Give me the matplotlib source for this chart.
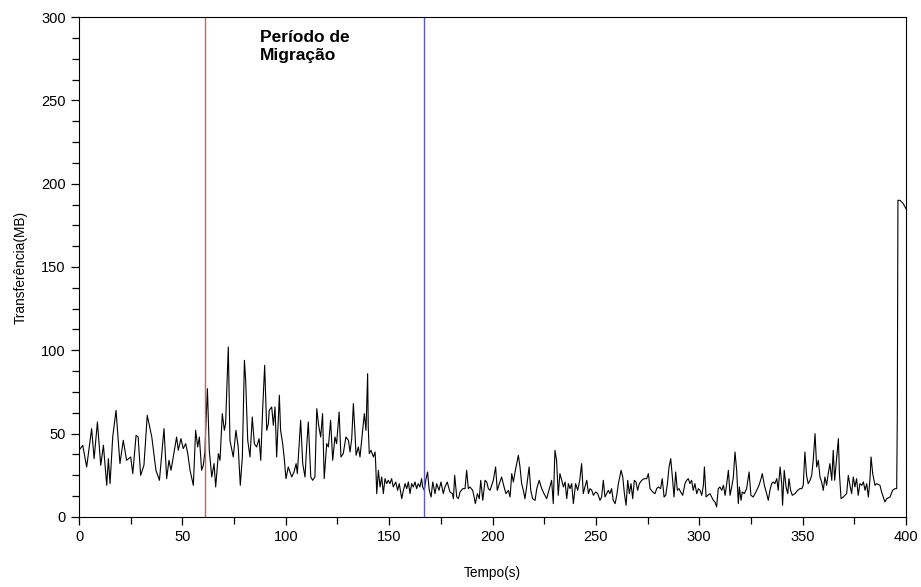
import matplotlib
matplotlib.use("Agg")
import matplotlib.pyplot as plt
from matplotlib.ticker import MultipleLocator

plt.rcParams['font.family'] = ['Liberation Sans', 'DejaVu Sans']

# Transferencia (MB) ao longo do tempo (s)
tempo = [
    0, 1.8, 3.7, 6.1, 7.3, 8.9, 10.5, 11.8, 13.4, 14.2, 15, 16.3, 17.9, 19.8,
    21.4, 23, 25, 26, 27.6, 28.6, 29.8, 31.4, 33, 35.2, 37.2, 38.9, 41.1, 42.4,
    43.5, 44.5, 45.6, 47.2, 48, 49.3, 50.4, 51.6, 52.6, 53.7, 55.3, 56.4, 57.4,
    58.2, 59.3, 60.1, 60.9, 61.3, 62.1, 63, 64.2, 65.3, 66.1, 67.4, 68.2, 69.3,
    70.3, 70.9, 72.2, 73, 74.6, 75.9, 77, 78, 79, 80, 80.6, 81.6, 82.7, 83.8,
    84.8, 85.9, 87.1, 87.9, 88.8, 89.8, 90.8, 91.6, 92, 93.2, 94, 94.8, 95.6,
    96.9, 97.5, 98.5, 99.2, 100.1, 101.2, 102.9, 104, 105, 105.6, 107.2, 108.2,
    109.3, 110.1, 110.9, 112.1, 113, 114.1, 115, 115.9, 116.9, 117.8, 118.6,
    119.8, 120.6, 121.7, 122.7, 123.8, 124.6, 125.8, 126.7, 127.8, 129.1, 130.3,
    131.1, 131.9, 132.7, 133.5, 134, 135.1, 135.9, 136.7, 138, 138.8, 139.6,
    139.9, 140.4, 141.2, 142.4, 143.2, 143.5, 144, 144.8, 145.6, 146.4, 147.2,
    148, 148.8, 149.6, 150.4, 151.2, 152, 153.2, 154.1, 154.9, 156.1, 156.9,
    157.7, 158.5, 159.3, 160.1, 160.9, 161.7, 162.5, 163.3, 164.1, 164.9, 165.7,
    166.2, 167, 167.7, 168.6, 169.4, 170.3, 171.1, 172.2, 173, 174.1, 175.1,
    176.2, 177, 178.1, 179.4, 180.6, 181.1, 181.7, 182.7, 183.5, 184.3, 185.6,
    186.7, 187.5, 188.3, 189.1, 190.4, 191.1, 191.7, 192.7, 193.6, 194.3, 195.3,
    196.4, 197.2, 198, 198.8, 199.6, 200.4, 201.5, 202.3, 203.3, 204.4, 205.6,
    206.5, 207.7, 208.5, 209.3, 210.1, 210.9, 211.7, 212.5, 213.3, 214.1, 214.9,
    215.7, 216.5, 217.7, 218.5, 219.4, 220.6, 221.4, 222.6, 223.8, 224.9, 226.2,
    227.5, 228.6, 229.4, 230.2, 231, 231.8, 232.6, 233.5, 234.3, 235.1, 235.9,
    236.7, 237.5, 238.3, 239.1, 240.2, 241.2, 242.2, 243.1, 243.9, 244.7, 245.6,
    246.4, 247.2, 248, 248.8, 249.9, 250.9, 252, 252.8, 253.6, 254.4, 255.2, 256,
    256.8, 257.6, 258.4, 259.3, 260.1, 260.9, 262.2, 263, 263.8, 264.6, 265.4,
    266.2, 267, 267.8, 268.6, 269.4, 270.2, 271, 272.2, 273.4, 274.6, 275.4,
    276.2, 277.5, 278.6, 279.4, 280.2, 281.3, 282.1, 283, 283.8, 284.6, 285.4,
    286.2, 287, 287.8, 288.6, 289.4, 290.2, 291, 292, 293.1, 293.9, 294.7, 295.5,
    296.3, 297.1, 297.9, 298.8, 299.6, 300.4, 301.2, 302, 302.5, 303.3, 304.1,
    305.2, 306, 306.8, 307.6, 308.4, 309.2, 310, 310.9, 311.7, 312.5, 313.3,
    314.1, 314.9, 315.7, 316.5, 317.3, 318.1, 318.9, 319.4, 320.2, 320.8, 321.8,
    322.9, 324.1, 325, 326.1, 327, 327.8, 328.9, 329.9, 330.5, 331.5, 332.6,
    333.4, 334.2, 335, 335.8, 336.6, 337.5, 338.2, 339.1, 339.9, 340.3, 341.1,
    342, 342.8, 343.4, 344.2, 345, 346.3, 347.6, 348.7, 349.6, 350.3, 351.1,
    351.9, 352.7, 353.6, 354.4, 355.2, 356, 356.8, 357.6, 358.4, 359.2, 360,
    360.8, 361.6, 362.4, 363.2, 364.1, 364.8, 365.5, 366.5, 367.3, 367.8, 368.6,
    369.7, 371.3, 372.1, 372.9, 373.7, 374.5, 375.3, 376.1, 376.9, 377.7, 378.6,
    379.4, 380.2, 381, 381.8, 382.6, 383.1, 383.9, 385, 385.8, 387.4, 388.2, 389,
    389.8, 390.7, 392.3, 393.5, 394.7, 395.5, 395.8, 396, 396.1, 397.1, 398.7, 400,
]
transf = [
    40, 43, 30, 53, 35, 57, 31, 43, 19, 35, 20, 48, 64, 32,
    46, 34, 36, 26, 49, 48, 25, 31, 61, 48, 28, 22, 53, 23,
    34, 28, 36, 48, 40, 47, 41, 44, 38, 28, 19, 52, 42,
    48, 28, 31, 39, 54, 77, 40, 24, 32, 18, 38, 34, 62,
    52, 56, 102, 46, 36, 52, 42, 19, 36, 94, 82, 46, 36, 60,
    44, 42, 47, 34, 64, 91, 52, 56, 64, 66, 55, 66, 36,
    73, 52, 44, 36, 23, 30, 24, 27, 32, 26, 58, 32,
    24, 42, 57, 24, 22, 24, 65, 55, 48, 62, 23,
    44, 42, 58, 34, 48, 44, 63, 36, 38, 48, 46,
    39, 47, 68, 50, 37, 42, 36, 46, 62, 52, 86,
    54, 38, 40, 36, 39, 32, 14, 28, 18, 24, 14,
    23, 20, 22, 20, 23, 18, 21, 16, 20, 11, 16,
    20, 17, 21, 14, 20, 18, 21, 17, 20, 18, 23,
    18, 16, 22, 27, 16, 12, 21, 14, 20, 16, 21,
    14, 18, 21, 15, 14, 11, 25, 12, 11, 15, 17,
    17, 28, 17, 18, 16, 12, 8, 14, 11, 22, 10,
    22, 21, 17, 16, 19, 22, 30, 16, 20, 24, 18,
    14, 16, 12, 26, 21, 27, 32, 37, 30, 20, 16,
    11, 18, 30, 16, 11, 10, 17, 22, 17, 14, 11,
    17, 22, 8, 40, 34, 13, 26, 22, 18, 21, 11,
    20, 17, 20, 8, 20, 16, 22, 32, 14, 18, 22,
    14, 17, 16, 13, 15, 14, 10, 12, 22, 12, 14, 16,
    14, 17, 10, 8, 13, 20, 28, 24, 14, 7, 22,
    14, 20, 11, 22, 21, 16, 20, 22, 23, 23, 26,
    17, 15, 14, 17, 18, 17, 23, 12, 13, 20, 30,
    35, 24, 12, 27, 16, 17, 15, 13, 20, 22, 23, 20,
    22, 16, 20, 14, 17, 16, 13, 19, 30, 12, 13,
    14, 12, 10, 9, 6, 17, 18, 16, 19, 13, 20,
    28, 13, 18, 24, 39, 28, 8, 18, 10, 15, 14,
    17, 27, 13, 12, 14, 16, 19, 23, 26, 19, 14,
    10, 16, 20, 21, 20, 23, 16, 30, 20, 7, 28,
    18, 14, 23, 16, 13, 14, 16, 17, 17, 19, 39,
    25, 20, 22, 25, 35, 50, 30, 34, 24, 21, 16,
    24, 19, 26, 32, 22, 40, 22, 36, 47, 26, 11,
    12, 14, 25, 19, 14, 24, 18, 23, 13, 20, 19,
    21, 16, 20, 12, 23, 36, 26, 19, 20, 19, 15, 12,
    9, 11, 12, 16, 17, 17, 60, 148, 190, 190, 188, 185,
]

inicio_migracao = 61
fim_migracao = 167

fig = plt.figure(figsize=(9.21, 5.87), dpi=100)
ax = fig.add_axes([0.0858, 0.1193, 0.8979, 0.8517])

ax.plot(tempo, transf, color='black', linewidth=0.8)
ax.axvline(inicio_migracao, color='#e05a5a', linewidth=1.0)
ax.axvline(fim_migracao, color='#5a5acd', linewidth=1.0)

ax.text(87.5, 292, 'Período de\nMigração', fontsize=12.5, fontweight='bold',
        va='top', ha='left', linespacing=1.2)

ax.set_xlim(0, 400)
ax.set_ylim(0, 300)
ax.xaxis.set_major_locator(MultipleLocator(50))
ax.xaxis.set_minor_locator(MultipleLocator(25))
ax.yaxis.set_major_locator(MultipleLocator(50))
ax.yaxis.set_minor_locator(MultipleLocator(12.5))
ax.tick_params(which='major', direction='out', length=6, width=0.9,
               labelsize=10.5, pad=3.5)
ax.tick_params(which='minor', direction='out', length=5, width=0.9)

ax.set_xlabel('Tempo(s)', fontsize=9.8, labelpad=16)
ax.set_ylabel('Transferência(MB)', fontsize=9.8, labelpad=10)

fig.savefig('out.png', dpi=100)
